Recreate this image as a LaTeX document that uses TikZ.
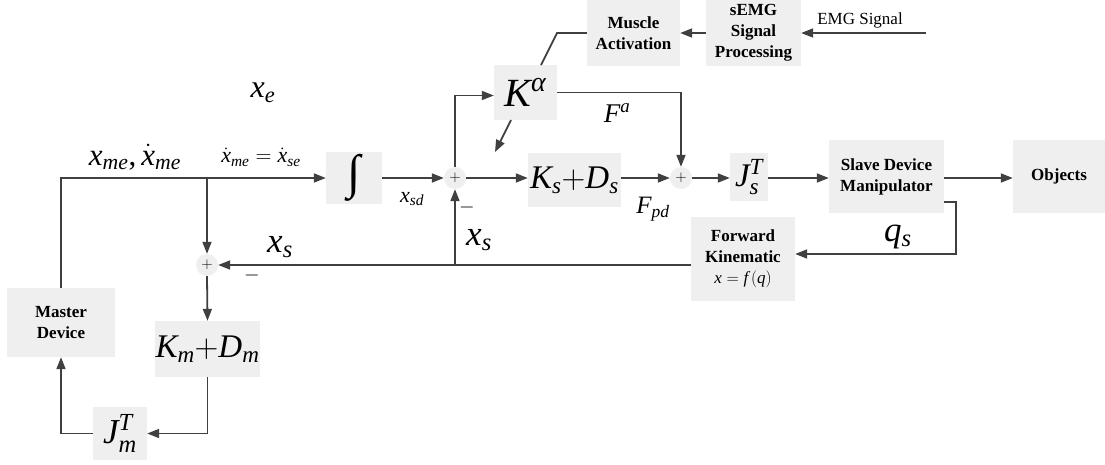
\RequirePackage{fix-cm}
\documentclass[tikz,border=0pt]{standalone}
\usepackage{fontspec}
\setmainfont{Liberation Serif}[BoldFont={Liberation Serif Bold}, ItalicFont={Liberation Serif Italic}, BoldItalicFont={Liberation Serif Bold Italic}]
\DeclareSymbolFont{letters}{TU}{\rmdefault}{m}{it}
\AtBeginDocument{\Umathchardef\alpha="0 "1 "03B1\relax}
\usetikzlibrary{arrows.meta,calc}
\definecolor{boxgray}{HTML}{EFEFEF}
\definecolor{linegray}{HTML}{404040}
\newcommand{\fs}[1]{\fontsize{#1}{#1}\selectfont}
\newcommand{\pl}{\mathrm{+}}
\newcommand{\eq}{\mathrel{\mathrm{=}}}
\newcommand{\cm}{\mathpunct{\mbox{,}}}
\tikzset{
  blk/.style={fill=boxgray, inner sep=0pt, align=center, font=\fontsize{17}{21}\selectfont\bfseries},
  sumnode/.style={circle, fill=boxgray, minimum size=22pt, inner sep=0pt, font=\fs{15}},
  arr/.style={draw=linegray, line width=1.8pt, -{Triangle[length=12pt,width=9pt]}},
  ln/.style={draw=linegray, line width=1.8pt},
  lbl/.style={inner sep=0pt}
}
\begin{document}
\begin{tikzpicture}[x=1pt,y=-1pt]
\useasboundingbox (0,0) rectangle (1105,464);
% blocks
\node[blk, minimum width=108pt, minimum height=69pt] (md) at (61,322.5) {Master\\Device};
\node[blk, minimum width=56pt, minimum height=52pt] (int) at (354,178) {{\mdseries\fs{48}∫}};
\node[sumnode] (s1) at (207,265) {$\pl$};
\node[sumnode] (s2) at (455,178) {$\pl$};
\node[sumnode] (s3) at (681,178) {$\pl$};
\node[blk, minimum width=63pt, minimum height=55pt] (ka) at (525.5,92.5) {\fs{40}$K^{\alpha}$};
\node[blk, minimum width=93pt, minimum height=54pt] (ksd) at (574.5,180) {\fs{33}$K_{s}{\pl}D_{s}$};
\node[blk, minimum width=38pt, minimum height=48pt] (jst) at (749,177) {\fs{33}$J_s^T$};
\node[blk, minimum width=115pt, minimum height=73pt] (slave) at (886.5,176.5) {Slave Device\\Manipulator};
\node[blk, minimum width=92pt, minimum height=73pt] (obj) at (1059,176.5) {Objects};
\node[blk, minimum width=104pt, minimum height=84pt] (fk) at (743,259) {Forward\\Kinematic\\{\mdseries\fs{17}$x\eq f\left(q\right)$}};
\node[blk, minimum width=105pt, minimum height=56pt] (kmd) at (207.5,349) {\fs{33}$K_{m}{\pl}D_{m}$};
\node[blk, minimum width=54pt, minimum height=53pt] (jmt) at (120,433.5) {\fs{35}$J_m^{T}$};
\node[blk, minimum width=93pt, minimum height=66pt] (ma) at (633.5,33) {Muscle\\Activation};
\node[blk, minimum width=95pt, minimum height=66pt] (semg) at (753.5,33) {sEMG\\Signal\\Processing};
% coordinates
\coordinate (b1) at (207,178);
\coordinate (mk) at (557,33);
\coordinate (kt) at (541,65);
\coordinate (kb) at (511,120);
\coordinate (ke) at (495,152);
\coordinate (emg) at (926,33);
% connectors
\draw[arr] (md.north) |- (int.west);
\draw[arr] (b1) -- (s1.north);
\draw[arr] (s1.south) -- (kmd.north);
\draw[arr] (kmd.south) |- (jmt.east);
\draw[arr] (jmt.west) -| (md.south);
\draw[arr] (int.east) -- (s2.west);
\draw[arr] (s2.east) -- (s2.east -| ksd.west);
\draw[arr] (ksd.east |- s3.west) -- (s3.west);
\draw[arr] (s2.north) |- ([yshift=-3pt]ka.west);
\draw[arr] (ka.east) -| (s3.north);
\draw[arr] (s3.east) -- (s3.east -| jst.west);
\draw[arr] (jst.east |- s3.east) -- (s3.east -| slave.west);
\draw[arr] (slave.east |- s3.east) -- (s3.east -| obj.west);
\draw[arr] ([yshift=11pt]slave.south east) -- ++(12,0) |- ([yshift=5pt]fk.east);
\draw[arr] (fk.west |- s1.east) -- (s1.east);
\draw[arr] (s2.south |- s1.east) -- (s2.south);
\draw[ln] (ma.west) -- (mk) -- (kt);
\draw[arr] (kb) -- (ke);
\draw[arr] (semg.west) -- (ma.east);
\draw[arr] (emg) -- (semg.east);
% labels
\node[lbl, font=\fs{17}] (emglbl) at (860,20) {EMG Signal};
\node[lbl, font=\fs{32}] (xe) at (263,93) {$x_e$};
\node[lbl, font=\fs{31}] (xme) at (135,157) {$x_{me}\cm\dot{x}_{me}$};
\node[lbl, font=\fs{22}] (xmese) at (261,157) {$\dot{x}_{me}\eq\dot{x}_{se}$};
\node[lbl, font=\fs{22}] (xsd) at (412,199) {$x_{sd}$};
\node[lbl, font=\fs{27}] (fa) at (617,113) {$F^{a}$};
\node[lbl, font=\fs{25}] (fpd) at (653,209) {$F_{pd}$};
\node[lbl, font=\fs{20}] (m2) at (467,207) {$-$};
\node[lbl, font=\fs{20}] (m1) at (252,275) {$-$};
\node[lbl, font=\fs{35}] (xs2) at (479,240) {$x_{s}$};
\node[lbl, font=\fs{35}] (xs1) at (280,247) {$x_{s}$};
\node[lbl, font=\fs{35}] (qs) at (898,237) {$q_{s}$};
\end{tikzpicture}
\end{document}
